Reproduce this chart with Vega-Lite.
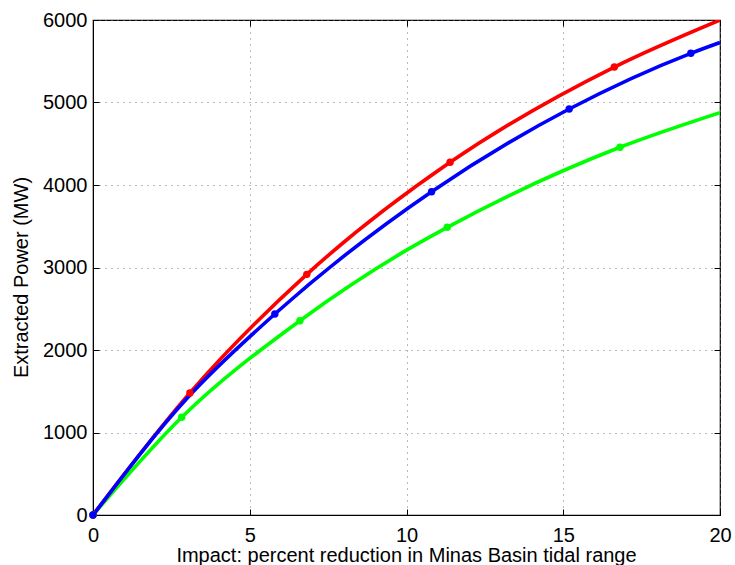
{
  "$schema": "https://vega.github.io/schema/vega-lite/v6.json",
  "width": 627,
  "height": 495,
  "autosize": "none",
  "padding": {"left": 93, "top": 20, "right": 15, "bottom": 50},
  "background": "white",
  "config": {
    "font": "Liberation Sans",
    "view": {"stroke": "black", "strokeWidth": 1.2},
    "axis": {
      "labelFont": "Liberation Sans",
      "titleFont": "Liberation Sans",
      "labelColor": "black",
      "titleColor": "black",
      "titleFontWeight": "normal",
      "labelFontSize": 20,
      "titleFontSize": 20,
      "domainColor": "black",
      "tickColor": "black",
      "tickSize": -6,
      "tickWidth": 1,
      "gridColor": "#777777",
      "gridDash": [1, 5],
      "gridWidth": 1,
      "gridOpacity": 1,
      "labelFlush": false,
      "labelOverlap": false
    }
  },
  "data": {
    "values": [
      {"s": "A", "x": 0, "y": 0, "m": true},
      {"s": "A", "x": 2.83, "y": 1184, "m": true},
      {"s": "A", "x": 6.6, "y": 2355, "m": true},
      {"s": "A", "x": 10, "y": 3210, "m": false},
      {"s": "A", "x": 11.3, "y": 3487, "m": true},
      {"s": "A", "x": 16.81, "y": 4457, "m": true},
      {"s": "A", "x": 20, "y": 4877, "m": false},
      {"s": "B", "x": 0, "y": 0, "m": true},
      {"s": "B", "x": 3.09, "y": 1480, "m": true},
      {"s": "B", "x": 6.82, "y": 2917, "m": true},
      {"s": "B", "x": 11.39, "y": 4275, "m": true},
      {"s": "B", "x": 16.63, "y": 5430, "m": true},
      {"s": "B", "x": 20, "y": 6000, "m": false},
      {"s": "C", "x": 0, "y": 0, "m": true},
      {"s": "C", "x": 3, "y": 1415, "m": false},
      {"s": "C", "x": 5.8, "y": 2436, "m": true},
      {"s": "C", "x": 10.8, "y": 3919, "m": true},
      {"s": "C", "x": 15.19, "y": 4921, "m": true},
      {"s": "C", "x": 19.07, "y": 5596, "m": true},
      {"s": "C", "x": 20, "y": 5727, "m": false}
    ]
  },
  "resolve": {"axis": {"x": "independent", "y": "independent"}},
  "layer": [
    {
      "mark": {"type": "line", "strokeWidth": 3.6, "interpolate": "monotone", "clip": true},
      "encoding": {
        "x": {
          "field": "x", "type": "quantitative",
          "scale": {"domain": [0, 20], "nice": false, "zero": false},
          "axis": {
            "values": [0, 5, 10, 15, 20],
            "format": "d",
            "labelPadding": 16,
            "title": "Impact: percent reduction in Minas Basin tidal range",
            "titleBaseline": "alphabetic",
            "titleY": 46,
            "titleX": 313
          }
        },
        "y": {
          "field": "y", "type": "quantitative",
          "scale": {"domain": [0, 6000], "nice": false},
          "axis": {
            "values": [0, 1000, 2000, 3000, 4000, 5000, 6000],
            "format": "d",
            "labelPadding": 12,
            "title": "Extracted Power (MW)",
            "titleAngle": -90,
            "titleBaseline": "alphabetic",
            "titleAlign": "center",
            "titleX": -66,
            "titleY": 257
          }
        },
        "color": {
          "field": "s", "type": "nominal",
          "scale": {"domain": ["A", "B", "C"], "range": ["#00ff00", "#ff0000", "#0000ff"]},
          "legend": null
        },
        "order": {"field": "x", "type": "quantitative"}
      }
    },
    {
      "transform": [{"filter": "datum.m"}],
      "mark": {"type": "circle", "size": 55, "opacity": 1, "clip": false},
      "encoding": {
        "x": {
          "field": "x", "type": "quantitative",
          "axis": {"orient": "top", "values": [0, 5, 10, 15, 20], "labels": false, "grid": false, "title": null, "domain": false}
        },
        "y": {
          "field": "y", "type": "quantitative",
          "axis": {"orient": "right", "values": [0, 1000, 2000, 3000, 4000, 5000, 6000], "labels": false, "grid": false, "title": null, "domain": false}
        },
        "color": {"field": "s", "type": "nominal", "legend": null}
      }
    }
  ]
}
